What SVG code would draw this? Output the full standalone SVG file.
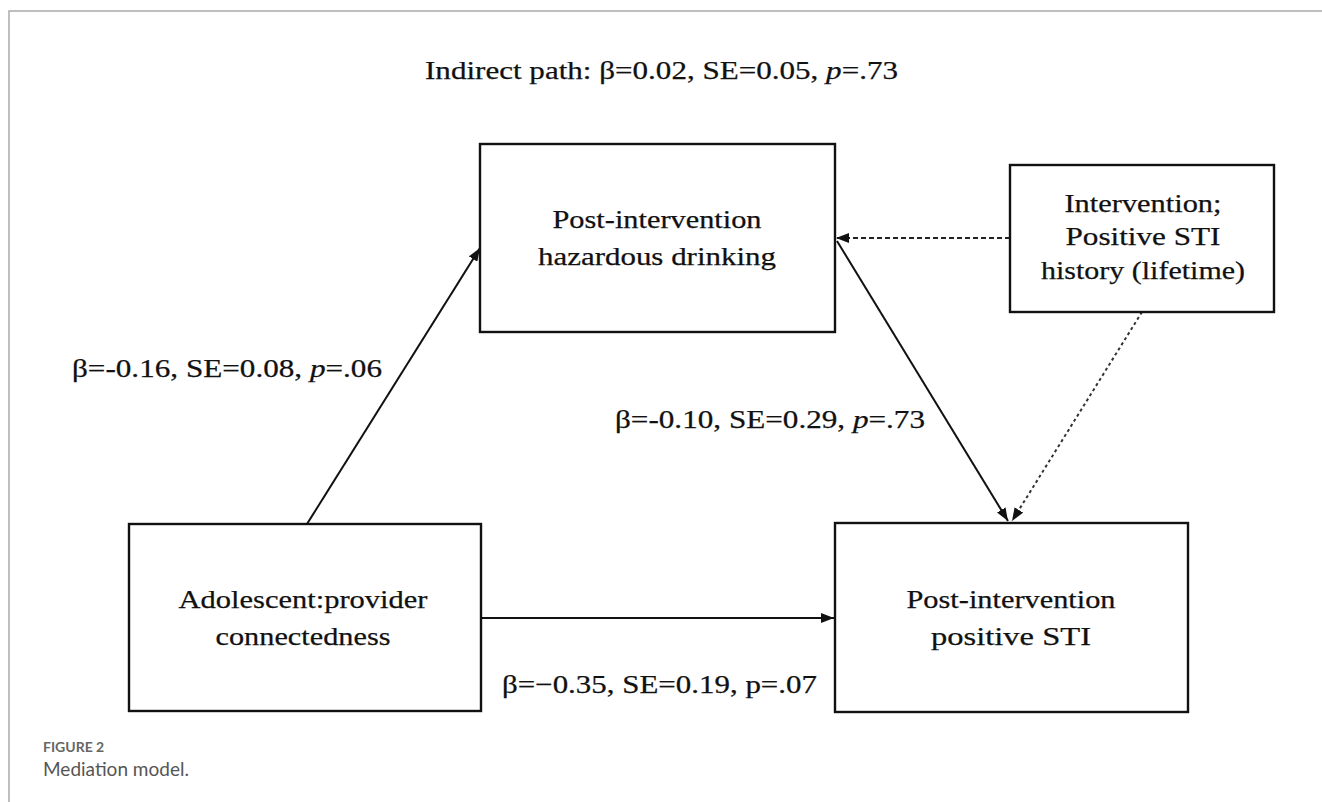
<svg xmlns="http://www.w3.org/2000/svg" width="1322" height="802" viewBox="0 0 1322 802">
<style>
.box{fill:#fff;stroke:#111;stroke-width:2.4}
.t{font-family:"Liberation Serif","Times New Roman",serif;font-size:26px;fill:#111;stroke:#111;stroke-width:0.25}
.c{text-anchor:middle}
.solid{stroke:#111;stroke-width:2;fill:none}
.dash{stroke:#222;stroke-width:2;fill:none;stroke-dasharray:5 3}
.dot{stroke:#333;stroke-width:2;fill:none;stroke-dasharray:3 3}
.frame{stroke:#aaa;stroke-width:1.5;fill:none}
.cap1{font-family:Lato,"Open Sans",sans-serif;font-size:14px;font-weight:bold;fill:#666}
.cap2{font-family:Lato,"Open Sans",sans-serif;font-size:19px;fill:#555}
</style>
<defs>
<marker id="ah" markerUnits="userSpaceOnUse" markerWidth="13" markerHeight="10" refX="13" refY="5" orient="auto">
<path d="M0,0 L13,5 L0,10 z" fill="#111"/>
</marker>
</defs>
<rect width="1322" height="802" fill="#fff"/>
<path class="frame" d="M9,802 V11 H1322"/>

<text class="t" x="425" y="79" textLength="473" lengthAdjust="spacingAndGlyphs">Indirect path: β=0.02, SE=0.05, <tspan font-style="italic">p</tspan>=.73</text>

<g id="connectors">
<line class="solid" x1="307" y1="524" x2="480" y2="248" marker-end="url(#ah)"/>
<line class="solid" x1="481" y1="618" x2="834" y2="618" marker-end="url(#ah)"/>
<line class="solid" x1="837" y1="241" x2="1008" y2="521" marker-end="url(#ah)"/>
<line class="dash" x1="1010" y1="238" x2="836" y2="238" marker-end="url(#ah)"/>
<line class="dot" x1="1142" y1="312" x2="1012" y2="521" marker-end="url(#ah)"/>
<text class="t" x="72" y="377" textLength="310" lengthAdjust="spacingAndGlyphs">β=-0.16, SE=0.08, <tspan font-style="italic">p</tspan>=.06</text>
<text class="t" x="615" y="428" textLength="310" lengthAdjust="spacingAndGlyphs">β=-0.10, SE=0.29, <tspan font-style="italic">p</tspan>=.73</text>
<text class="t" x="502" y="693" textLength="315" lengthAdjust="spacingAndGlyphs">β=−0.35, SE=0.19, p=.07</text>
</g>

<g id="hazardous">
<rect class="box" x="480" y="144" width="355" height="188"/>
<text class="t c" x="657" y="228" textLength="209" lengthAdjust="spacingAndGlyphs">Post-intervention</text>
<text class="t c" x="657" y="265" textLength="238" lengthAdjust="spacingAndGlyphs">hazardous drinking</text>
</g>

<g id="covariates">
<rect class="box" x="1010" y="165" width="264" height="147"/>
<text class="t c" x="1143" y="212" textLength="157" lengthAdjust="spacingAndGlyphs">Intervention;</text>
<text class="t c" x="1143" y="245" textLength="155" lengthAdjust="spacingAndGlyphs">Positive STI</text>
<text class="t c" x="1143" y="279" textLength="204" lengthAdjust="spacingAndGlyphs">history (lifetime)</text>
</g>

<g id="connectedness">
<rect class="box" x="129" y="524" width="352" height="187"/>
<text class="t c" x="303" y="608" textLength="249" lengthAdjust="spacingAndGlyphs">Adolescent:provider</text>
<text class="t c" x="303" y="645" textLength="175" lengthAdjust="spacingAndGlyphs">connectedness</text>
</g>

<g id="sti">
<rect class="box" x="835" y="523" width="353" height="189"/>
<text class="t c" x="1011" y="608" textLength="209" lengthAdjust="spacingAndGlyphs">Post-intervention</text>
<text class="t c" x="1011" y="645" textLength="160" lengthAdjust="spacingAndGlyphs">positive STI</text>
</g>

<text class="cap1" x="43" y="752">FIGURE 2</text>
<text class="cap2" x="43" y="776">Mediation model.</text>
</svg>
